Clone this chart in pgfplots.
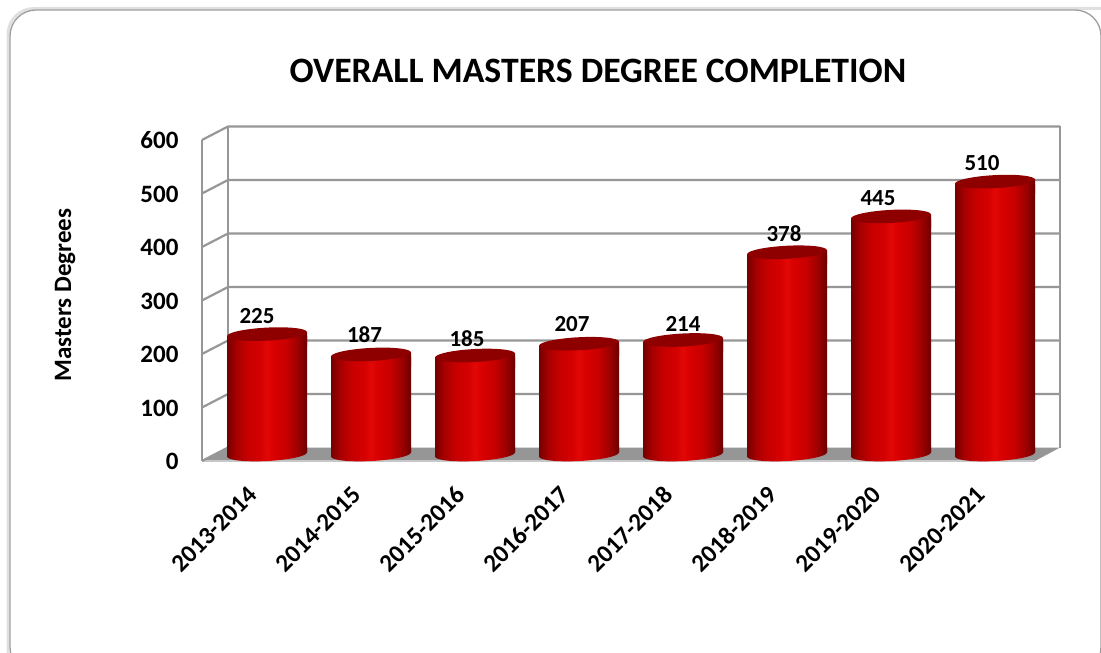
\documentclass[border=0pt]{standalone}
\usepackage{fontspec}
\setmainfont{Carlito}
\usepackage{pgfplots}
\pgfplotsset{compat=1.18}
\usepackage{pgfplotstable}
\definecolor{wallgray}{HTML}{979797}
\definecolor{floorgray}{HTML}{969696}
\definecolor{cyltopc}{HTML}{8E0000}
\pgfdeclarehorizontalshading{cyl}{100bp}{
 color(0bp)=(red!46!black);
 color(25bp)=(red!46!black);
 color(31bp)=(red!66!black);
 color(38bp)=(red!78!black);
 color(46bp)=(red!84!black);
 color(50bp)=(red!88!black!97!white);
 color(54bp)=(red!85!black);
 color(62bp)=(red!78!black);
 color(69bp)=(red!62!black);
 color(75bp)=(red!42!black);
 color(100bp)=(red!42!black)}
\pgfdeclareplotmark{cyltop}{%
 \begin{pgfscope}
  \pgfpathmoveto{\pgfqpoint{-40pt}{-2.1pt}}%
  \pgfpathlineto{\pgfqpoint{40pt}{2.1pt}}%
  \pgfpathlineto{\pgfqpoint{40pt}{-12pt}}%
  \pgfpathlineto{\pgfqpoint{-40pt}{-12pt}}%
  \pgfpathclose
  \pgfshadepath{cyl}{0}\pgfusepath{discard}%
 \end{pgfscope}
 \begin{pgfscope}
  \pgfsetfillcolor{cyltopc}%
  \pgfpathellipse{\pgfpointorigin}{\pgfqpoint{39.95pt}{2.09pt}}{\pgfqpoint{-0.34pt}{6.5pt}}%
  \pgfusepath{fill}%
 \end{pgfscope}
}
\pgfdeclareplotmark{cylbot}{%
 \begin{pgfscope}
  \pgfpathellipse{\pgfpointorigin}{\pgfqpoint{39.95pt}{2.09pt}}{\pgfqpoint{-0.34pt}{6.5pt}}%
  \pgfpathmoveto{\pgfqpoint{-40pt}{-2.1pt}}%
  \pgfpathlineto{\pgfqpoint{40pt}{2.1pt}}%
  \pgfpathlineto{\pgfqpoint{40pt}{8pt}}%
  \pgfpathlineto{\pgfqpoint{-40pt}{8pt}}%
  \pgfpathclose
  \pgfshadepath{cyl}{0}\pgfusepath{discard}%
 \end{pgfscope}
}
\pgfplotstableread{
x v dx dy
267 225 -10 24.6
371 187 -6.5 26
475 185 -8 23
579 207 -7 26.3
683 214 0 22.5
787 378 -3 24.8
891 445 -13 25
995 510 -13 25.2
}\degrees
\pgfplotsset{cylbar/.style={ybar,bar width=80pt,draw=none,shading=cyl,yshift=9pt}}
\begin{document}
\begin{tikzpicture}[x=1pt,y=1pt]
\path[use as bounding box] (0,0) rectangle (1101,653);
\begin{scope}
\clip (0,0) rectangle (1101,653);
\draw[black!12,line width=3pt,rounded corners=26pt] (8,-20) -- (8,644.5) -- (1110,644.5);
\draw[fill=white,draw=black!38,line width=1.3pt,rounded corners=26pt] (10,-20) rectangle (1101,643);
\end{scope}
\begin{axis}[
  at={(202pt,192pt)},anchor=south west,
  scale only axis,width=858pt,height=334.5pt,
  xmin=202,xmax=1060,ymin=0,ymax=625.2,
  clip=false,
  axis line style={draw=none},
  tick style={draw=none},
  /pgf/number format/assume math mode=true,
  xtick={267,371,475,579,683,787,891,995},
  xticklabels={2013-2014,2014-2015,2015-2016,2016-2017,2017-2018,2018-2019,2019-2020,2020-2021},
  ytick={0,100,...,600},
  tick label style={font=\fontsize{25}{25}\selectfont\bfseries},
  y tick label style={xshift=-20pt,yshift=-0.5pt},
  x tick label style={anchor=east,xshift=-12pt,yshift=-27pt,rotate=45},
  title={OVERALL MASTERS DEGREE COMPLETION},
  title style={at={(axis description cs:0.4615,1.148)},anchor=center,font=\fontsize{35.7}{36}\selectfont\bfseries},
  ylabel={Masters Degrees},
  every axis y label/.style={at={(axis description cs:-0.1596,0.496)},rotate=90,anchor=center,font=\fontsize{25}{25}\selectfont\bfseries},
]
\addplot[draw=none,fill=floorgray,mark=none] coordinates {(202,0)(228,25.2)(1060,25.2)(1035,0)} -- cycle;
\addplot[wallgray,line width=2.2pt,mark=none] coordinates {(202,0)(202,600)};
\addplot[wallgray,line width=2.2pt,mark=none] coordinates {(228,25.2)(228,625.2)};
\addplot[wallgray,line width=2.2pt,mark=none] coordinates {(1060,25.2)(1060,625.2)};
\addplot[black!22,line width=1.6pt,mark=none] coordinates {(202,0)(1035,0)};
\addplot[wallgray,line width=2.2pt,mark=none] coordinates {(202,0)(228,25.2)};
\addplot[wallgray,line width=2.2pt,mark=none] coordinates {(202,100)(228,125.2)(1060,125.2)};
\addplot[wallgray,line width=2.2pt,mark=none] coordinates {(202,200)(228,225.2)(1060,225.2)};
\addplot[wallgray,line width=2.2pt,mark=none] coordinates {(202,300)(228,325.2)(1060,325.2)};
\addplot[wallgray,line width=2.2pt,mark=none] coordinates {(202,400)(228,425.2)(1060,425.2)};
\addplot[wallgray,line width=2.2pt,mark=none] coordinates {(202,500)(228,525.2)(1060,525.2)};
\addplot[wallgray,line width=2.2pt,mark=none] coordinates {(202,600)(228,625.2)(1060,625.2)};
\addplot[cylbar] coordinates {(267,215)};
\addplot[cylbar] coordinates {(371,177)};
\addplot[cylbar] coordinates {(475,175)};
\addplot[cylbar] coordinates {(579,197)};
\addplot[cylbar] coordinates {(683,204)};
\addplot[cylbar] coordinates {(787,368)};
\addplot[cylbar] coordinates {(891,435)};
\addplot[cylbar] coordinates {(995,500)};
\addplot[only marks,mark=cylbot,yshift=6.5pt] table[x=x,y expr=0] {\degrees};
\addplot[only marks,mark=cyltop,yshift=6.5pt] table[x=x,y=v] {\degrees};
\addplot[draw=none,mark=none,
  visualization depends on={\thisrow{dx} \as \dxv},
  visualization depends on={\thisrow{dy} \as \dyv},
  nodes near coords,point meta=y,
  nodes near coords style={anchor=center,xshift=\dxv pt,yshift=\dyv pt,font=\fontsize{23}{23}\selectfont\bfseries,text=black}]
  table[x=x,y=v] {\degrees};
\end{axis}
\end{tikzpicture}
\end{document}
